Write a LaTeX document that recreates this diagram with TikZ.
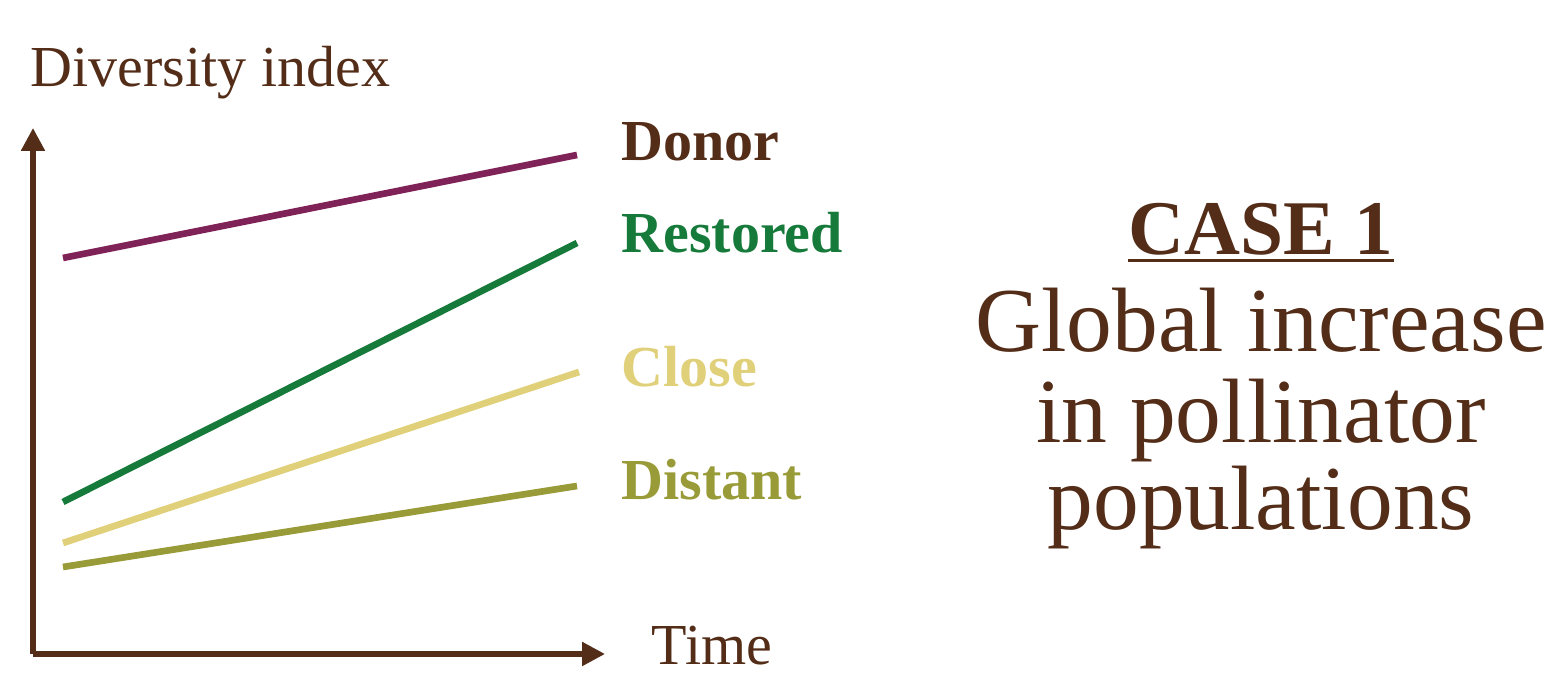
\documentclass[tikz,border=0pt]{standalone}
\usepackage{fontspec}
\setmainfont{Liberation Serif}
\usetikzlibrary{arrows.meta, positioning}
\definecolor{bark}{HTML}{532D18}
\definecolor{donorcol}{HTML}{7F2257}
\definecolor{restcol}{HTML}{157A3A}
\definecolor{closecol}{HTML}{E0D07A}
\definecolor{distcol}{HTML}{989B38}
\tikzstyle{axis} = [line width=1.5pt, bark, -{Triangle[length=6.5pt, width=6.5pt]}]
\tikzstyle{trend} = [line width=1.9pt]
\tikzstyle{axislabel} = [anchor=base west, inner sep=0pt, text=bark, font=\fontsize{16.5}{20}\selectfont]
\tikzstyle{sitelabel} = [anchor=base west, inner sep=0pt, font=\fontsize{16.5}{20}\selectfont\bfseries]
\tikzstyle{casetitle} = [anchor=base, inner sep=0pt, text=bark, font=\fontsize{22}{26}\selectfont\bfseries]
\tikzstyle{casetext} = [anchor=base, inner sep=0pt, text=bark, font=\fontsize{26}{30}\selectfont]
\begin{document}
\begin{tikzpicture}[x=0.01cm, y=-0.01cm]

    \useasboundingbox (0,0) rectangle (1557,677);

    % axes
    \coordinate (origin) at (33,654);
    \coordinate (ytop) at (33,128);
    \coordinate (xend) at (605,654);
    \draw [axis] (origin) -- (ytop);
    \draw [axis] (origin) -- (xend);

    \node (ylabel) [axislabel] at (30,87) {Diversity index};
    \node (xlabel) [axislabel] at (651,665) {Time};

    % trends
    \coordinate (donor0) at (63,258);
    \coordinate (donor1) at (577,155);
    \coordinate (rest0) at (63,502);
    \coordinate (rest1) at (577,243);
    \coordinate (close0) at (63,543);
    \coordinate (close1) at (579,372);
    \coordinate (dist0) at (63,567);
    \coordinate (dist1) at (577,486);

    \draw [trend, donorcol] (donor0) -- (donor1);
    \draw [trend, restcol] (rest0) -- (rest1);
    \draw [trend, closecol] (close0) -- (close1);
    \draw [trend, distcol] (dist0) -- (dist1);

    \node (donor) [sitelabel, text=bark] at (621,161) {Donor};
    \node (restored) [sitelabel, text=restcol] at (621,253) {Restored};
    \node (close) [sitelabel, text=closecol] at (621,387) {Close};
    \node (distant) [sitelabel, text=distcol] at (621,500) {Distant};

    % case text
    \node (case) [casetitle] at (1261,255) {CASE 1};
    \draw [bark, line width=0.9pt] ([yshift=-1.5pt]case.base west) -- ([yshift=-1.5pt]case.base east);

    \node (line1) [casetext] at (1261,352) {Global increase};
    \node (line2) [casetext] at (1261,443) {in pollinator};
    \node (line3) [casetext] at (1261,530) {populations};

\end{tikzpicture}
\end{document}
